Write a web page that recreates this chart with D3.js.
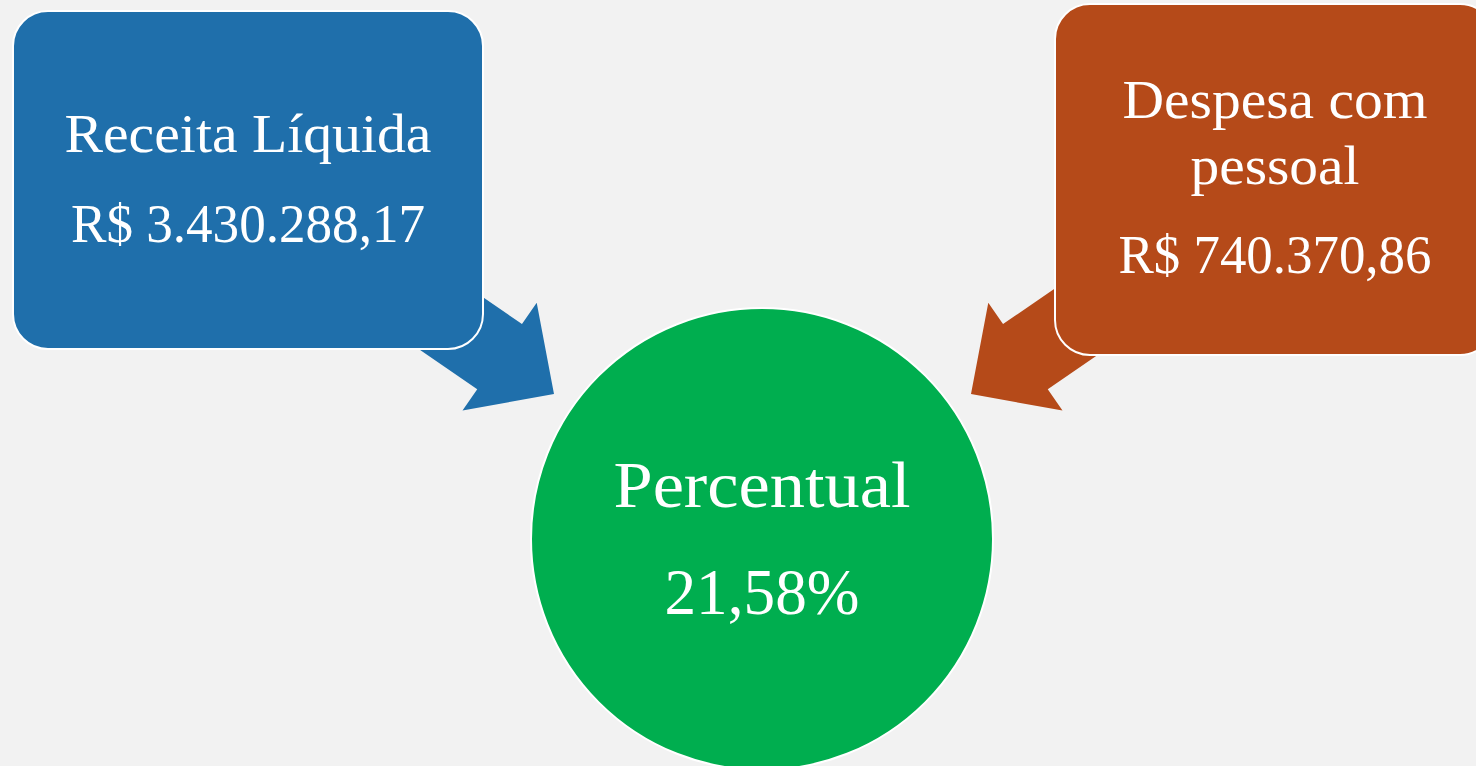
<!DOCTYPE html>
<meta charset="utf-8">
<title>Receita x Despesa com pessoal</title>
<script src="https://d3js.org/d3.v7.min.js"></script>
<style>
  body { margin: 0; background: #f2f2f2; }
  svg { display: block; }
  .label { fill: white; font-family: "Palatino Linotype", "Book Antiqua", Palatino, "Liberation Serif", serif; text-anchor: middle; }
</style>
<body>
  <svg class=diagram></svg>
  <script>

  // data
  var titles = [["Receita Líquida"], ["Despesa com", "pessoal"], ["Percentual"]];
  var values = [3430288.17, 740370.86, 21.58];
  var kinds = ["currency", "currency", "percent"];
  var colors = ["#1f6fab", "#b54a19", "#00ae4f"];

  var width = 1476;
  var height = 766;

  var ptBR = d3.formatLocale({
    decimal: ",",
    thousands: ".",
    grouping: [3],
    currency: ["R$ ", ""]
  });
  var fmtMoney = ptBR.format("$,.2f");
  var fmtPct = function(d) { return ptBR.format(",.2f")(d) + "%"; };

  var svg = d3.select(".diagram")
    .attr("width", width)
    .attr("height", height);

  // layout of the three nodes (baselines and line widths of the original serif face)
  var boxes = [
    {x: 13, y: 11, w: 470, h: 338, tx: 248, lines: [152, 242], widths: [367, 354], size: 55},
    {x: 1055, y: 4, w: 440, h: 351, tx: 1275, lines: [118, 184, 273], widths: [305, 169, 313], size: 55}
  ];
  var circle = {cx: 762, cy: 539, r: 231, tx: 762, lines: [507, 614], widths: [297, 195], size: 65};

  // arrows: tip point and heading, drawn first so the boxes sit on top
  var arrows = [
    {tip: [554, 394], angle: 34.5, color: colors[0]},
    {tip: [971, 394], angle: 145.5, color: colors[1]}
  ];
  var headLen = 66, headHalf = 65.5, shaftHalf = 39.5, shaftLen = 220;
  var arrowShape = [
    [0, 0], [-headLen, -headHalf], [-headLen, -shaftHalf], [-shaftLen, -shaftHalf],
    [-shaftLen, shaftHalf], [-headLen, shaftHalf], [-headLen, headHalf]
  ];

  svg.selectAll(".arrow")
    .data(arrows)
    .enter().append("path")
      .attr("class", "arrow")
      .attr("d", d3.line()(arrowShape) + "Z")
      .attr("transform", function(d) { return "translate(" + d.tip + ") rotate(" + d.angle + ")"; })
      .style("fill", function(d) { return d.color; });

  svg.selectAll(".box")
    .data(boxes)
    .enter().append("rect")
      .attr("class", "box")
      .attr("x", function(d) { return d.x; })
      .attr("y", function(d) { return d.y; })
      .attr("width", function(d) { return d.w; })
      .attr("height", function(d) { return d.h; })
      .attr("rx", 35)
      .style("fill", function(d, i) { return colors[i]; })
      .style("stroke", "white")
      .style("stroke-width", 2);

  svg.append("circle")
    .attr("cx", circle.cx)
    .attr("cy", circle.cy)
    .attr("r", circle.r)
    .style("fill", colors[2])
    .style("stroke", "white")
    .style("stroke-width", 2);

  var nodes = [boxes[0], boxes[1], circle];
  nodes.forEach(function(n, i) {
    var valueText = kinds[i] == "currency" ? fmtMoney(values[i]) : fmtPct(values[i]);
    var lines = titles[i].concat([valueText]);
    svg.selectAll(".label-" + i)
      .data(lines)
      .enter().append("text")
        .attr("class", "label label-" + i)
        .attr("x", n.tx)
        .attr("y", function(d, j) { return n.lines[j]; })
        .attr("textLength", function(d, j) { return n.widths[j]; })
        .attr("lengthAdjust", "spacingAndGlyphs")
        .style("font-size", n.size + "px")
        .text(function(d) { return d; });
  });

  </script>
</body>
